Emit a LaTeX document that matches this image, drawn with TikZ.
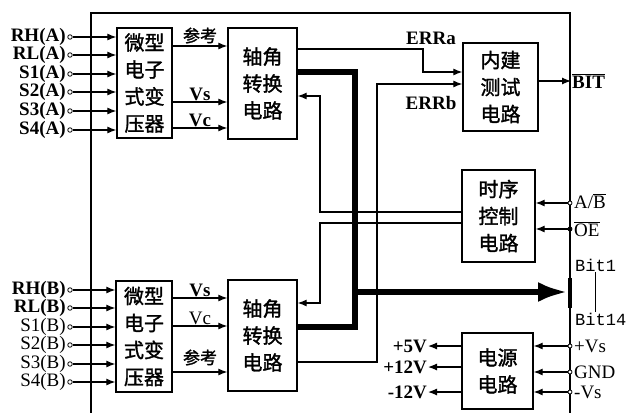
\documentclass[tikz,border=0pt]{standalone}
\usepackage{fontspec}
\setmainfont{Liberation Serif}
\newfontfamily\cjk[FakeBold=1.5]{Noto Sans CJK SC}
\newfontfamily\bitfont{Liberation Mono}
\usetikzlibrary{arrows.meta,positioning}

\begin{document}
\begin{tikzpicture}[x=1pt,y=-1pt,
  block/.style={rectangle,draw,line width=1.3pt,align=center,inner sep=0pt,font=\cjk\fontsize{20}{27}\selectfont},
  pin/.style={circle,draw,fill=white,line width=0.8pt,inner sep=0pt,minimum size=4.5pt},
  lbl/.style={inner sep=1pt,font=\bfseries\fontsize{19}{19}\selectfont},
  rlbl/.style={inner sep=1pt,font=\fontsize{19}{19}\selectfont},
  cnlbl/.style={inner sep=2pt,font=\cjk\fontsize{17}{17}\selectfont},
  arrow/.style={-{Latex[length=9pt,width=7pt]},line width=1.2pt},
  bus/.style={line width=6pt}
]
\path[use as bounding box,fill=white] (0,0) rectangle (633,413);
% outer frame
\draw[line width=1.5pt] (91,413) |- (570,13) -- (570,413);

% blocks
\node[block,minimum width=55pt,minimum height=110pt] (xfA) at (144.5,83) {微型\\电子\\式变\\压器};
\node[block,minimum width=69pt,minimum height=111pt] (convA) at (262.5,83.5) {轴角\\转换\\电路};
\node[block,minimum width=75pt,minimum height=88pt] (bite) at (500.5,87) {内建\\测试\\电路};
\node[block,minimum width=73pt,minimum height=92pt] (timing) at (498.5,216) {时序\\控制\\电路};
\node[block,minimum width=71pt,minimum height=76pt] (power) at (497.5,371) {电源\\电路};
\node[block,minimum width=56pt,minimum height=111pt] (xfB) at (144,336.5) {微型\\电子\\式变\\压器};
\node[block,minimum width=69pt,minimum height=111pt] (convB) at (262.5,335.5) {轴角\\转换\\电路};

% resolver inputs
\foreach \sig/\ypos in {RH/37,RL/55,S1/74,S2/92,S3/111,S4/130}{
  \node[pin] (pinA\sig) at (70,\ypos) {};
  \node[lbl,left=0.5pt of pinA\sig] (labA\sig) {\sig(A)};
  \draw[arrow] (pinA\sig) -- (pinA\sig -| xfA.west);
}
\foreach \sig/\ypos/\wt in {RH/290/lbl,RL/308/lbl,S1/327/rlbl,S2/345/rlbl,S3/364/rlbl,S4/382/rlbl}{
  \node[pin] (pinB\sig) at (70,\ypos) {};
  \node[\wt,left=0.5pt of pinB\sig] (labB\sig) {\sig(B)};
  \draw[arrow] (pinB\sig) -- (pinB\sig -| xfB.west);
}

% transformer outputs
\draw[arrow] (xfA.east |- 0,46) -- node[cnlbl,above]{参考} (convA.west |- 0,46);
\draw[arrow] (xfA.east |- 0,102) -- node[lbl,above]{Vs} (convA.west |- 0,102);
\draw[arrow] (xfA.east |- 0,128) -- node[lbl,above]{Vc} (convA.west |- 0,128);
\draw[arrow] (xfB.east |- 0,298) -- node[lbl,above]{Vs} (convB.west |- 0,298);
\draw[arrow] (xfB.east |- 0,326) -- node[rlbl,above]{Vc} (convB.west |- 0,326);
\draw[arrow] (xfB.east |- 0,372) -- node[cnlbl,above=4pt]{参考} (convB.west |- 0,372);

% error lines
\node[lbl] (errA) at (431,38) {ERRa};
\node[lbl] (errB) at (431,103) {ERRb};
\draw[arrow] (convA.east |- 0,49) -| (423,72) -- (bite.west |- 0,72);
\draw[arrow] (convB.east |- 0,362) -| (377,84) -- (bite.west |- 0,84);

% timing control
\draw[arrow] (timing.west |- 0,212) -| (320,96) -- (convA.east |- 0,96);
\draw[arrow] (timing.west |- 0,223) -| (320,303) -- (convB.east |- 0,303);

% data bus
\coordinate (busend) at (568,292);
\draw[bus] (convA.east |- 0,72) -| (355,327) -- (convB.east |- 0,327);
\draw[bus,-{Latex[length=30pt,width=20pt]}] (355,292) -- (busend);
\draw[line width=4pt] (570,278) -- (570,308);
\node[font=\bitfont\fontsize{17}{17}\selectfont,anchor=west,inner sep=1pt] (bit1) at (574,265) {Bit1};
\node[font=\bitfont\fontsize{17}{17}\selectfont,anchor=west,inner sep=1pt] (bit14) at (574,319) {Bit14};
\draw[line width=1pt] (bit1.south) -- (bit1.south |- bit14.north);

% BIT output
\node[lbl,anchor=west] (bitout) at (571,81) {$\overline{\mbox{\bfseries BIT}}$};
\draw[arrow] (bite.east |- bitout) -- (bitout.west);

% timing inputs
\node[pin,minimum size=4pt] (pinAB) at (570,203) {};
\node[rlbl,anchor=west] (labAB) at (573,201) {A/$\overline{\mbox{B}}$};
\node[pin,fill=black,minimum size=4pt] (pinOE) at (570,229) {};
\node[rlbl,anchor=west] (labOE) at (573,229) {$\overline{\mbox{OE}}$};
\draw[arrow] (pinAB) -- (pinAB -| timing.east);
\draw[arrow] (pinOE) -- (pinOE -| timing.east);

% power supply
\foreach \nm/\txt/\ypos in {pvs/+Vs/346,gnd/GND/372,nvs/-Vs/392}{
  \node[pin,minimum size=4pt] (pin\nm) at (570,\ypos) {};
  \node[rlbl,anchor=west] (lab\nm) at (573,\ypos) {\txt};
  \draw[arrow] (pin\nm) -- (pin\nm -| power.east);
}
\foreach \nm/\txt/\ypos in {p5/+5V/346,p12/+12V/367,n12/-12V/392}{
  \node[lbl,anchor=east] (out\nm) at (428,\ypos) {\txt};
  \draw[arrow] (power.west |- out\nm) -- (out\nm.east);
}
\end{tikzpicture}
\end{document}
